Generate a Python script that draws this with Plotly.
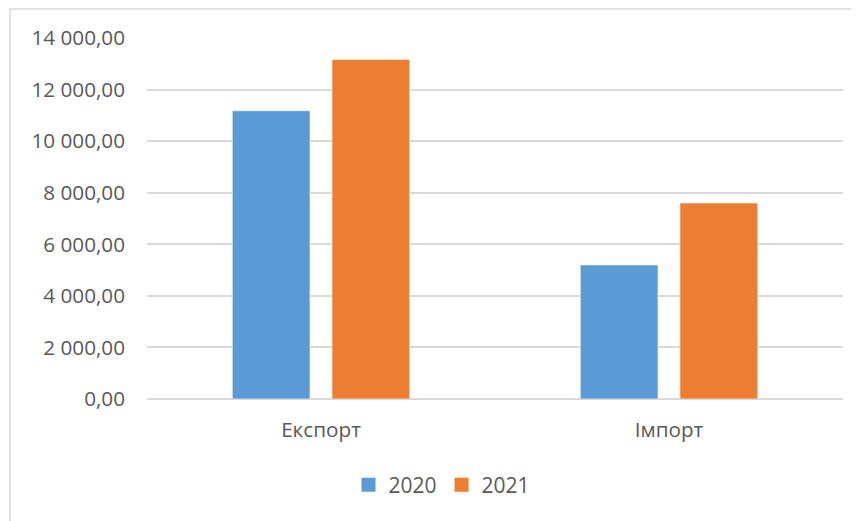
import plotly.graph_objects as go

categories = ["Експорт", "Імпорт"]
series_names = ["2020", "2021"]
values_2020 = [11180, 5200]
values_2021 = [13170, 7600]
colors = ["#5B9BD5", "#ED7D31"]

# page body adds an 8px offset; compensate in margins
OFF = 8
W, H = 859, 521
L = 147 - OFF
T = 38 - OFF
R = W - (843 - OFF)
B = H - (399 - OFF)
pw, ph = W - L - R, H - T - B

fig = go.Figure()
for name, vals, col in zip(series_names, [values_2020, values_2021], colors):
    fig.add_trace(go.Bar(
        x=categories, y=vals, name=name, showlegend=False,
        marker=dict(color=col, line=dict(color="rgba(255,255,255,0.6)", width=1)),
    ))
for name, col in zip(series_names, colors):
    fig.add_trace(go.Scatter(
        x=[None], y=[None], name=name, mode="markers",
        marker=dict(symbol="square", size=14, color=col),
    ))

font_family = "Open Sans, Noto Sans, sans-serif"
fs = 20.7
fig.update_layout(
    width=W, height=H,
    margin=dict(l=L, r=R, t=T, b=B, autoexpand=False),
    paper_bgcolor="white", plot_bgcolor="white",
    separators=", ",
    barmode="group", bargap=0.427, bargroupgap=0.22,
    font=dict(family=font_family, size=fs, color="#595959"),
    showlegend=True,
    legend=dict(orientation="h", x=(442 - OFF - L) / pw, xanchor="center",
                y=-(485 - 399) / ph, yanchor="middle",
                font=dict(size=21, color="#595959"),
                itemwidth=30, tracegroupgap=0),
    xaxis=dict(showgrid=False, zeroline=False, showline=False, ticks="",
               ticklabelstandoff=16,
               tickfont=dict(size=fs, color="#595959")),
    yaxis=dict(range=[0, 14000], dtick=2000, tickformat=",.2f",
               showgrid=True, gridcolor="#d9d9d9", gridwidth=1.5,
               zeroline=True, zerolinecolor="#d9d9d9", zerolinewidth=1.5,
               showline=False, ticks="", ticklabelstandoff=21,
               tickfont=dict(size=fs, color="#595959")),
    shapes=[dict(type="rect", xref="paper", yref="paper",
                 x0=(10 - OFF - L) / pw, x1=(W + 20 - L) / pw,
                 y0=-(H + 20 - (T + ph)) / ph, y1=1 + (T - (9 - OFF)) / ph,
                 line=dict(color="#d9d9d9", width=1.5), fillcolor="rgba(0,0,0,0)",
                 layer="below")],
)

fig.write_html("out.html")
